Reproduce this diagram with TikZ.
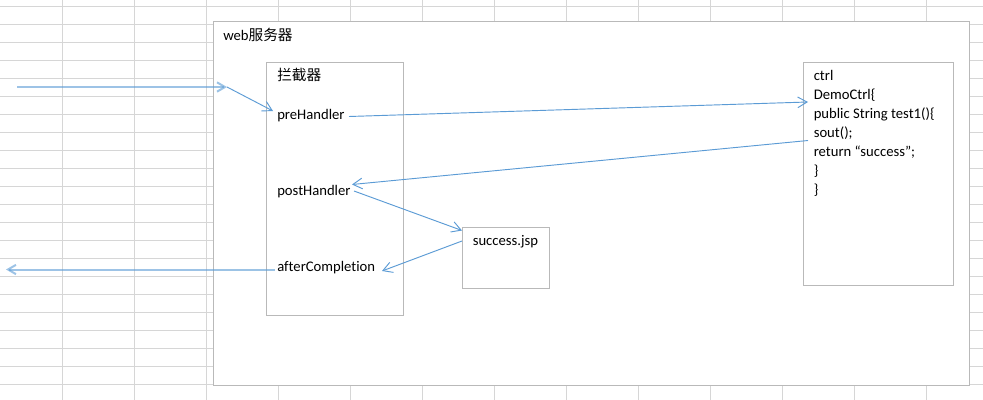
\documentclass[tikz,border=0pt]{standalone}
\usepackage{fontspec}
\setmainfont{Carlito}[Ligatures={NoCommon}]
\newfontfamily\cjk{Noto Sans CJK SC}
\usetikzlibrary{arrows.meta}
\definecolor{gridc}{RGB}{214,214,214}
\definecolor{boxc}{RGB}{185,185,185}
\definecolor{arr}{RGB}{91,155,213}
\begin{document}
\begin{tikzpicture}[x=0.75pt,y=-0.75pt,
  gridline/.style={draw=gridc, line width=0.75pt},
  frame/.style={draw=boxc, fill=white, line width=0.75pt},
  lbl/.style={anchor=base west, inner sep=0pt, font=\fontsize{11}{13}\selectfont},
  conn/.style={draw=arr, line width=0.7pt, -{Straight Barb[length=7pt,width=8pt]}},
  thickconn/.style={draw=arr, draw opacity=0.6, line width=1.5pt, -{Straight Barb[length=6pt,width=7pt]}}]
\useasboundingbox (0,0) rectangle (983,400);
% spreadsheet grid
\foreach \i in {0,...,12} \draw[gridline] (62+72*\i,0) -- (62+72*\i,400);
\foreach \j in {0,...,21} \draw[gridline] (0,6+18*\j) -- (983,6+18*\j);
% frames
\path[frame] (213.5,21.5) rectangle (969.5,385.5);
\path[frame] (266.5,62.5) rectangle (403.5,315.5);
\path[frame] (462.5,227.5) rectangle (549.5,288.5);
\path[frame] (803.5,62.5) rectangle (953.5,285.5);
% labels
\node[lbl] (web) at (223,40) {web{\cjk 服务器}};
\node[lbl] (icpt) at (277,80.5) {\cjk 拦截器};
\node[lbl] (pre) at (277,119) {preHandler};
\node[lbl] (post) at (277,195) {postHandler};
\node[lbl] (after) at (277,271) {afterCompletion};
\node[lbl] (jsp) at (472.5,245.5) {success.jsp};
\node[lbl] (c1) at (813.5,80.5) {ctrl};
\node[lbl] (c2) at (813.5,99.5) {DemoCtrl\{};
\node[lbl] (c3) at (813.5,118.5) {public String test1()\{};
\node[lbl] (c4) at (813.5,137.5) {sout();};
\node[lbl] (c5) at (813.5,156.5) {return “success”;};
\node[lbl] (c6) at (813.5,175.5) {\}};
\node[lbl] (c7) at (813.5,194.5) {\}};
% connector end points
\coordinate (in) at (17,87);
\coordinate (j) at (227,87);
\coordinate (preIn) at (273,111);
\coordinate (preOut) at (349,116.5);
\coordinate (ctrlIn) at (808,102);
\coordinate (ctrlOut) at (808,140.5);
\coordinate (postIn) at (352,184.5);
\coordinate (postOut) at (354,191);
\coordinate (jspIn) at (462,230.5);
\coordinate (jspOut) at (462,241);
\coordinate (afterIn) at (382,271);
\coordinate (afterOut) at (275,269.5);
\coordinate (out) at (6,269.5);
% connectors
\draw[thickconn] (in) -- (j);
\draw[conn] (j) -- (preIn);
\draw[conn] (preOut) -- (ctrlIn);
\draw[conn] (ctrlOut) -- (postIn);
\draw[conn] (postOut) -- (jspIn);
\draw[conn] (jspOut) -- (afterIn);
\draw[thickconn] (afterOut) -- (out);
\end{tikzpicture}
\end{document}
